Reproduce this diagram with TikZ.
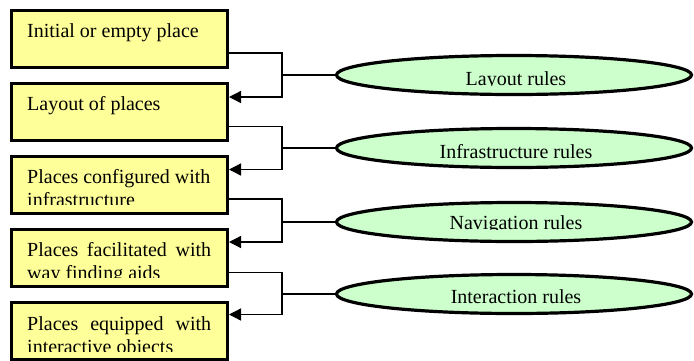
\documentclass[tikz,border=0pt]{standalone}
\usepackage{fontspec}
\setmainfont{Liberation Serif}
\usetikzlibrary{shapes.geometric,arrows.meta}
\definecolor{boxyellow}{HTML}{FFFF99}
\definecolor{rulegreen}{HTML}{CCFFCC}
\begin{document}
\begin{tikzpicture}[x=1pt,y=-1pt,
  stagebox/.style={draw,line width=3pt,fill=boxyellow,rectangle,
    minimum width=216.5pt,minimum height=57pt,inner sep=0pt},
  stagetext/.style={anchor=base west,inner sep=0pt,
    font=\fontsize{20}{23}\selectfont},
  rulebox/.style={draw,line width=3.2pt,fill=rulegreen,ellipse,
    minimum width=355pt,minimum height=39pt,inner sep=0pt},
  ruletext/.style={anchor=base,inner sep=0pt,
    font=\fontsize{20}{23}\selectfont},
  feed/.style={line width=1.3pt,-{Triangle[length=12pt,width=12pt]}},
  tie/.style={line width=1.3pt}]
\useasboundingbox (0,0) rectangle (694,360);
\clip (0,0) rectangle (694,360);

% stages of place making
\node[stagebox] (b1) at (119.25,38.5)  {};
\node[stagebox] (b2) at (119.25,112)   {};
\node[stagebox] (b3) at (119.25,184.5) {};
\node[stagebox] (b4) at (119.25,258)   {};
\node[stagebox] (b5) at (119.25,330.5) {};

\node[stagetext] (t1) at (27,37)  {Initial or empty place};
\node[stagetext] (t2) at (27,110.5) {Layout of places};
\begin{scope}
  \clip (14,158) rectangle (225,204.5);
  \node[stagetext] (t3a) at (27,183) {Places configured with};
  \node[stagetext] (t3b) at (27,206) {infrastructure};
\end{scope}
\begin{scope}
  \clip (14,231) rectangle (225,277.5);
  \node[stagetext] (t4a) at (27,256) {\makebox[184pt][s]{Places facilitated with}};
  \node[stagetext] (t4b) at (27,279) {way finding aids};
\end{scope}
\begin{scope}
  \clip (14,304) rectangle (225,351);
  \node[stagetext] (t5a) at (27,330) {\makebox[184pt][s]{Places equipped with}};
  \node[stagetext] (t5b) at (27,353) {interactive objects};
\end{scope}

% rule sets
\node[rulebox] (e1) at (514,75)  {};
\node[rulebox] (e2) at (514,148) {};
\node[rulebox] (e3) at (514,222) {};
\node[rulebox] (e4) at (514,294) {};

\begin{scope}
  \clip (340,55) rectangle (690,85.5);
  \node[ruletext] (r1) at (516,85) {Layout rules};
\end{scope}
\node[ruletext] (r2) at (516,158) {Infrastructure rules};
\begin{scope}
  \clip (340,200) rectangle (690,229.2);
  \node[ruletext] (r3) at (516,229.5) {Navigation rules};
\end{scope}
\node[ruletext] (r4) at (516,303) {Interaction rules};

% junctions of the transitions
\coordinate (j1) at (282,75);
\coordinate (j2) at (282,148);
\coordinate (j3) at (282,222);
\coordinate (j4) at (282,294);

\draw[feed] ([yshift=15.5pt]b1.south east) -| (j1) |- ([yshift=-15pt]b2.north east);
\draw[feed] ([yshift=15.5pt]b2.south east) -| (j2) |- ([yshift=-15pt]b3.north east);
\draw[feed] ([yshift=15.5pt]b3.south east) -| (j3) |- ([yshift=-14pt]b4.north east);
\draw[feed] ([yshift=15.5pt]b4.south east) -| (j4) |- ([yshift=-14pt]b5.north east);

\draw[tie] (j1) -- (e1.west);
\draw[tie] (j2) -- (e2.west);
\draw[tie] (j3) -- (e3.west);
\draw[tie] (j4) -- (e4.west);
\end{tikzpicture}
\end{document}
